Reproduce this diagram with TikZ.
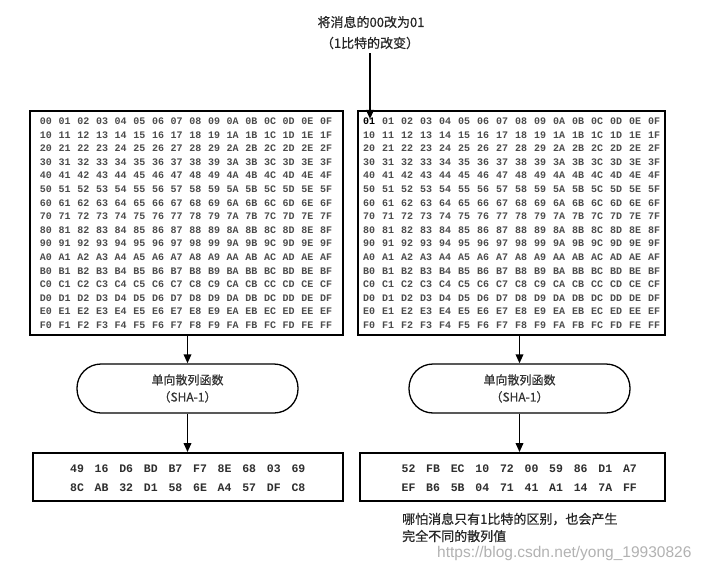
\documentclass[tikz,border=0pt]{standalone}
\usepackage{fontspec}
\setmainfont{Liberation Sans}
\newfontfamily\cjk[FakeBold=0.5]{Noto Sans CJK SC}
\newfontfamily\hexf{Liberation Mono}
\usetikzlibrary{arrows.meta}
\tikzset{
  bigbox/.style={draw=black, line width=1.8pt, inner sep=0pt},
  funcbox/.style={draw=black, line width=1.3pt, rounded corners=24pt, minimum width=221pt, minimum height=49pt, inner sep=0pt, align=center, font=\cjk\fontsize{12}{17}\selectfont, text=black!80},
  hashbox/.style={draw=black, line width=1.8pt, inner sep=0pt},
  cell/.style={inner sep=0pt, text height=7pt, text depth=0pt, font=\hexf\bfseries\fontsize{10}{12}\selectfont, text=black!70},
  hcell/.style={inner sep=0pt, text height=7.6pt, text depth=0pt, font=\hexf\bfseries\fontsize{11.5}{13}\selectfont, text=black!82},
  arr/.style={line width=1.8pt, -{Triangle[length=9pt,width=7.5pt]}},
  note/.style={inner sep=0pt, font=\cjk\fontsize{13}{17}\selectfont, text=black!85},
}
\begin{document}
\begin{tikzpicture}[x=1pt,y=-1pt]
\useasboundingbox (0,0) rectangle (706,567);
\fill[white] (0,0) rectangle (706,567);

% top note
\node[note] (top1) at (371,22) {将消息的00改为01};
\node[note] (top2) at (370,43) {（1比特的改变）};
\coordinate (tip) at (370,119);

% message boxes
\node[bigbox, minimum width=313pt, minimum height=224pt] (boxL) at (186.5,223) {};
\node[bigbox, minimum width=307pt, minimum height=224pt] (boxR) at (511.5,223) {};

\foreach \hr [count=\r from 0] in {0,1,2,3,4,5,6,7,8,9,A,B,C,D,E,F}{
  \foreach \hc [count=\c from 0] in {0,1,2,3,4,5,6,7,8,9,A,B,C,D,E,F}{
    \node[cell] (L-\r-\c) at ({46+18.67*\c},{121+13.6*\r}) {\hr\hc};
    \ifnum\r=0 \ifnum\c=0
      \node[cell, text=black] (R-\r-\c) at ({369+19*\c},{121+13.6*\r}) {01};
    \else
      \node[cell] (R-\r-\c) at ({369+19*\c},{121+13.6*\r}) {\hr\hc};
    \fi\else
      \node[cell] (R-\r-\c) at ({369+19*\c},{121+13.6*\r}) {\hr\hc};
    \fi
  }
}

% hash functions
\node[funcbox] (fL) at (187.5,388.5) {单向散列函数\\（SHA-1）};
\node[funcbox] (fR) at (519.5,388.5) {单向散列函数\\（SHA-1）};

% hash result boxes
\node[hashbox, minimum width=310pt, minimum height=48pt] (hL) at (188,477) {};
\node[hashbox, minimum width=305pt, minimum height=48pt] (hR) at (512.5,477) {};

\foreach \t [count=\i from 0] in {49,16,D6,BD,B7,F7,8E,68,03,69}
  \node[hcell] (hL1-\i) at ({77+24.6*\i},469) {\t};
\foreach \t [count=\i from 0] in {8C,AB,32,D1,58,6E,A4,57,DF,C8}
  \node[hcell] (hL2-\i) at ({77+24.6*\i},488) {\t};
\foreach \t [count=\i from 0] in {52,FB,EC,10,72,00,59,86,D1,A7}
  \node[hcell] (hR1-\i) at ({408.5+24.6*\i},469) {\t};
\foreach \t [count=\i from 0] in {EF,B6,5B,04,71,41,A1,14,7A,FF}
  \node[hcell] (hR2-\i) at ({408.5+24.6*\i},488) {\t};

% connectors
\draw[arr] (top2.south) ++(0,4) coordinate (tops) -- (tip);
\draw[arr] (boxL.south -| fL.north) -- (fL.north);
\draw[arr] (boxR.south -| fR.north) -- (fR.north);
\draw[arr] (fL.south) -- (fL.south |- hL.north);
\draw[arr] (fR.south) -- (fR.south |- hR.north);

% bottom note
\node[note, anchor=west] (n1) at (402,519) {哪怕消息只有1比特的区别，也会产生};
\node[note, anchor=west] (n2) at (402,536) {完全不同的散列值};

% watermark
\node[inner sep=0pt, anchor=west, font=\fontsize{15.5}{18}\selectfont, text=black!30] (wm) at (437,553) {https://blog.csdn.net/yong\_19930826};
\end{tikzpicture}
\end{document}
